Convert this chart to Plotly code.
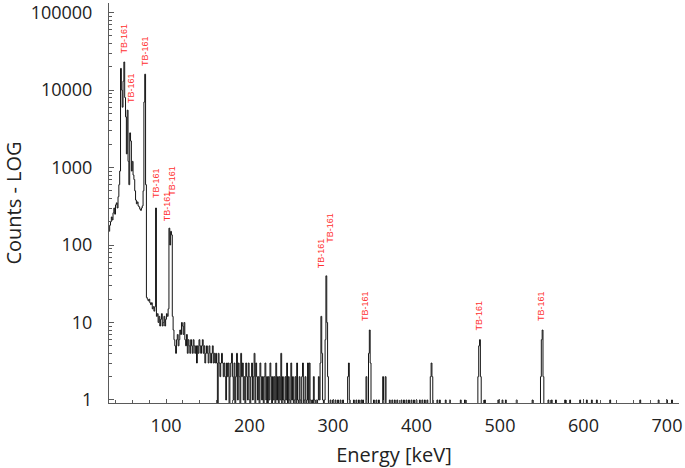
import numpy as np
import plotly.graph_objects as go

# ---------------- data ----------------
first_channel_kev = 32
# counts per 1 keV channel from 32 keV to 295 keV
counts_32_295 = [
    150, 180, 200, 230, 210, 260, 300, 250, 330, 350,          # 32-41
    300, 420, 600, 900, 19000, 10000, 6000, 13000, 23000, 8000,  # 42-51
    4500, 1500, 5500, 1200, 600, 2800, 2200, 900, 1200, 800,   # 52-61
    700, 500, 380, 340, 360, 320, 310, 290, 280, 300,          # 62-71
    320, 500, 7000, 16000, 600, 21, 20, 19, 20, 18,            # 72-81
    17, 18, 15, 16, 14, 16, 300, 12, 13, 10,                   # 82-91
    12, 9, 11, 13, 9, 10, 12, 9, 11, 13,                       # 92-101
    12, 15, 165, 100, 150, 135, 12, 8, 6, 5,                   # 102-111
    4, 6, 7, 5, 6, 8, 7, 10, 9, 7,                             # 112-121
    10, 6, 5, 7, 4, 6, 5, 4, 6, 5,                             # 122-131
    4, 6, 5, 4, 5, 3, 5, 4, 6, 5,                              # 132-141
    4, 5, 6, 4, 5, 3, 4, 5, 4, 3,                              # 142-151
    5, 4, 3, 4, 5, 3, 4, 3, 4, 3,                              # 152-161
    0, 4, 3, 2, 3, 4, 3, 2, 3, 2,                              # 162-171
    1, 3, 2, 3, 0, 2, 3, 4, 2, 1,                              # 172-181
    3, 0, 2, 4, 1, 3, 2, 0, 4, 2,                              # 182-191
    3, 1, 2, 0, 3, 2, 1, 3, 2, 0,                              # 192-201
    2, 3, 1, 2, 4, 0, 3, 2, 1, 2,                              # 202-211
    0, 3, 2, 1, 2, 0, 2, 3, 1, 2,                              # 212-221
    0, 2, 1, 3, 2, 0, 2, 1, 2, 0,                              # 222-231
    3, 1, 2, 0, 2, 1, 4, 0, 2, 1,                              # 232-241
    0, 2, 1, 3, 0, 2, 1, 0, 3, 1,                              # 242-251
    2, 0, 1, 2, 0, 3, 1, 0, 2, 1,                              # 252-261
    0, 2, 3, 0, 1, 2, 0, 1, 3, 0,                              # 262-271
    3, 1, 0, 1, 0, 2, 1, 0, 1, 0,                              # 272-281
    1, 2, 1, 3, 12, 4, 1, 0, 1, 6,                             # 282-291
    40, 10, 2, 0,                                              # 292-295
]
last_channel_kev = 714
# sparse tail above 295 keV: only the channels that hold counts
tail_kev = [297, 300, 303, 306, 309, 312, 318, 319, 320, 325, 328, 331, 334,
            336, 340, 343, 344, 345, 349, 352, 355, 360, 363, 368, 371, 374,
            377, 382, 385, 388, 391, 394, 397, 400, 404, 407, 410, 413, 417,
            418, 419, 425, 428, 435, 440, 453, 458, 474, 475, 476, 477, 482,
            498, 503, 507, 520, 539, 549, 550, 551, 552, 558, 562, 567, 578,
            584, 596, 604, 610, 616, 632, 668, 690, 700, 706]
tail_counts = [1, 1, 1, 1, 1, 1, 2, 3, 1, 1, 1, 1, 1,
               1, 2, 4, 8, 3, 1, 1, 1, 2, 2, 1, 1, 1,
               1, 1, 1, 1, 1, 1, 1, 1, 1, 1, 1, 1, 2,
               3, 2, 1, 1, 1, 1, 1, 1, 2, 5, 6, 2, 1,
               1, 1, 1, 1, 1, 2, 6, 8, 2, 1, 1, 1, 1,
               1, 1, 1, 1, 1, 1, 1, 1, 1, 1]

# peak labels: energy (keV) and the count level where each label starts
label_kev = [49.7, 58, 75.5, 88, 101.5, 107, 286.5, 296, 338, 475.5, 549]
label_base_counts = [28000, 6400, 19000, 380, 193, 405, 47, 100, 9.8, 7.3, 9.8]
label_text = "TB-161"

x_tick_vals = [100, 200, 300, 400, 500, 600, 700]
y_tick_vals = [1, 10, 100, 1000, 10000, 100000]
y_tick_text = ["1", "10", "100", "1000", "10000", "100000"]

# ---------------- assemble the channel spectrum ----------------
energy = np.arange(first_channel_kev, last_channel_kev + 1)
counts = np.zeros(energy.size)
counts[:len(counts_32_295)] = counts_32_295
for e, c in zip(tail_kev, tail_counts):
    counts[e - first_channel_kev] = c
# empty channels can't sit on a log axis: push them below the axis floor
plot_counts = np.where(counts > 0, counts, 0.5)

fig = go.Figure()
fig.add_trace(go.Scatter(
    x=energy, y=plot_counts, mode="lines",
    line=dict(color="#151515", width=1, shape="hvh"),
    hoverinfo="skip", showlegend=False))

label_font = dict(family="Liberation Sans Narrow, Arial Narrow, Liberation Sans, Arial",
                  size=9, color="#ff3030")
for e, c in zip(label_kev, label_base_counts):
    fig.add_annotation(x=e, y=np.log10(c), text=label_text, textangle=-90,
                       showarrow=False, xanchor="center", yanchor="bottom",
                       font=label_font)

axis_color = "#5a5a5a"
tick_font = dict(family="Open Sans", size=18, color="#222222")
title_font = dict(family="Open Sans", size=20, color="#222222")
fig.update_layout(
    width=685, height=468,
    margin=dict(l=109, r=6, t=3, b=65),
    paper_bgcolor="white", plot_bgcolor="white",
    font=dict(family="Open Sans", color="#222222"),
    xaxis=dict(
        range=[31.7, 714.4], showline=True, linecolor=axis_color, linewidth=1,
        mirror=False, showgrid=False, zeroline=False, automargin=False,
        tickmode="array", tickvals=x_tick_vals,
        ticks="inside", ticklen=4, tickcolor=axis_color, tickwidth=1,
        minor=dict(dtick=20, ticks="inside", ticklen=3, tickcolor=axis_color, showgrid=False),
        tickfont=tick_font, ticklabelstandoff=6, ticklabeloverflow="allow",
        title=dict(text="Energy [keV]", font=title_font, standoff=12),
    ),
    yaxis=dict(
        type="log", range=[-0.039, 5.123], showline=True, linecolor=axis_color, linewidth=1,
        showgrid=False, zeroline=False, automargin=False,
        tickmode="array", tickvals=y_tick_vals, ticktext=y_tick_text,
        ticks="inside", ticklen=5, tickcolor=axis_color, tickwidth=1,
        minor=dict(dtick="D1", ticks="inside", ticklen=3, tickcolor=axis_color, showgrid=False),
        tickfont=tick_font, ticklabelstandoff=12, ticklabeloverflow="allow",
        title=dict(text="Counts - LOG", font=title_font, standoff=3),
    ),
)

# the page's default body margin would offset the figure inside the window
fig.write_html("out.html", config={"displayModeBar": False},
               post_script="document.body.style.margin='0';")
